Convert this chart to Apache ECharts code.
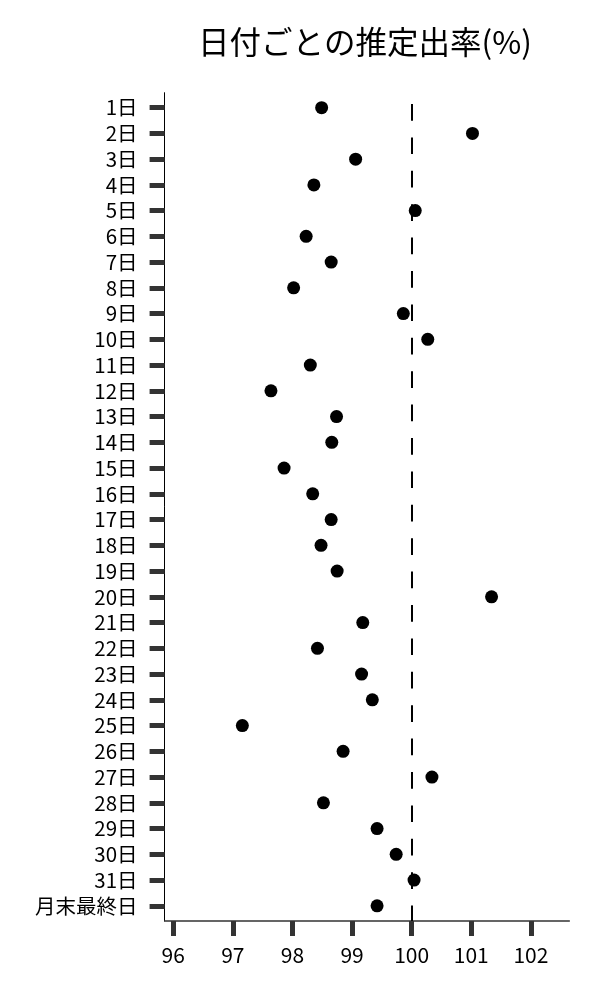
<!DOCTYPE html>
<html>
<head>
<meta charset="UTF-8">
<title>日付ごとの推定出率</title>
<style>
  html, body { margin: 0; padding: 0; background: #fff; }
  #main { width: 600px; height: 1000px; }
</style>
<script src="https://cdn.jsdelivr.net/npm/echarts@6/dist/echarts.min.js"></script>
</head>
<body>
<div id="main"></div>
<script>
// 日ごとのラベル（上から順）
var days = ['1日', '2日', '3日', '4日', '5日', '6日', '7日', '8日', '9日', '10日',
  '11日', '12日', '13日', '14日', '15日', '16日', '17日', '18日', '19日', '20日',
  '21日', '22日', '23日', '24日', '25日', '26日', '27日', '28日', '29日', '30日',
  '31日', '月末最終日'];
// 推定出率(%)
var rates = [98.49, 101.02, 99.06, 98.36, 100.06, 98.23, 98.65, 98.02, 99.86, 100.27,
  98.30, 97.64, 98.74, 98.66, 97.86, 98.34, 98.65, 98.48, 98.75, 101.34,
  99.18, 98.42, 99.16, 99.34, 97.16, 98.85, 100.34, 98.52, 99.42, 99.74,
  100.04, 99.42];
var xTicks = [96, 97, 98, 99, 100, 101, 102];
var refLine = 100;

var font = 'Noto Sans CJK JP';
var points = rates.map(function (v, i) { return [v, i]; });
var rowIdx = days.map(function (d, i) { return i; });

var chart = echarts.init(document.getElementById('main'));
chart.setOption({
  animation: false,
  title: {
    text: '日付ごとの推定出率(%)',
    left: 360,
    top: 21,
    textAlign: 'center',
    textStyle: { fontFamily: font, fontSize: 31.5, fontWeight: 'normal', color: '#000' }
  },
  grid: { left: 164.6, right: 30.7, top: 92.7, bottom: 79, outerBoundsMode: 'none' },
  xAxis: {
    type: 'value',
    min: 95.856,
    max: 102.644,
    axisLine: { onZero: false, lineStyle: { color: '#333', width: 1.5 } },
    axisTick: { customValues: xTicks, length: 15, lineStyle: { color: '#333', width: 5 } },
    axisLabel: {
      customValues: xTicks, margin: 24,
      fontFamily: font, fontSize: 21, color: '#000'
    },
    splitLine: { show: false }
  },
  yAxis: {
    type: 'value',
    inverse: true,
    min: -0.58,
    max: 31.59,
    axisLine: { show: true, onZero: false, lineStyle: { color: '#000', width: 1 } },
    axisTick: { show: true, customValues: rowIdx, length: 15, lineStyle: { color: '#333', width: 5 } },
    axisLabel: {
      customValues: rowIdx, margin: 27,
      fontFamily: font, fontSize: 20.5, color: '#000',
      formatter: function (v) { return days[Math.round(v)]; }
    },
    splitLine: { show: false }
  },
  series: [{
    type: 'scatter',
    data: points,
    symbolSize: 13,
    itemStyle: { color: '#000', opacity: 1 },
    markLine: {
      silent: true,
      symbol: 'none',
      label: { show: false },
      lineStyle: { color: '#000', width: 2, type: [16.7, 16.7], dashOffset: 22.1 },
      data: [{ xAxis: refLine }]
    }
  }]
});
</script>
</body>
</html>
